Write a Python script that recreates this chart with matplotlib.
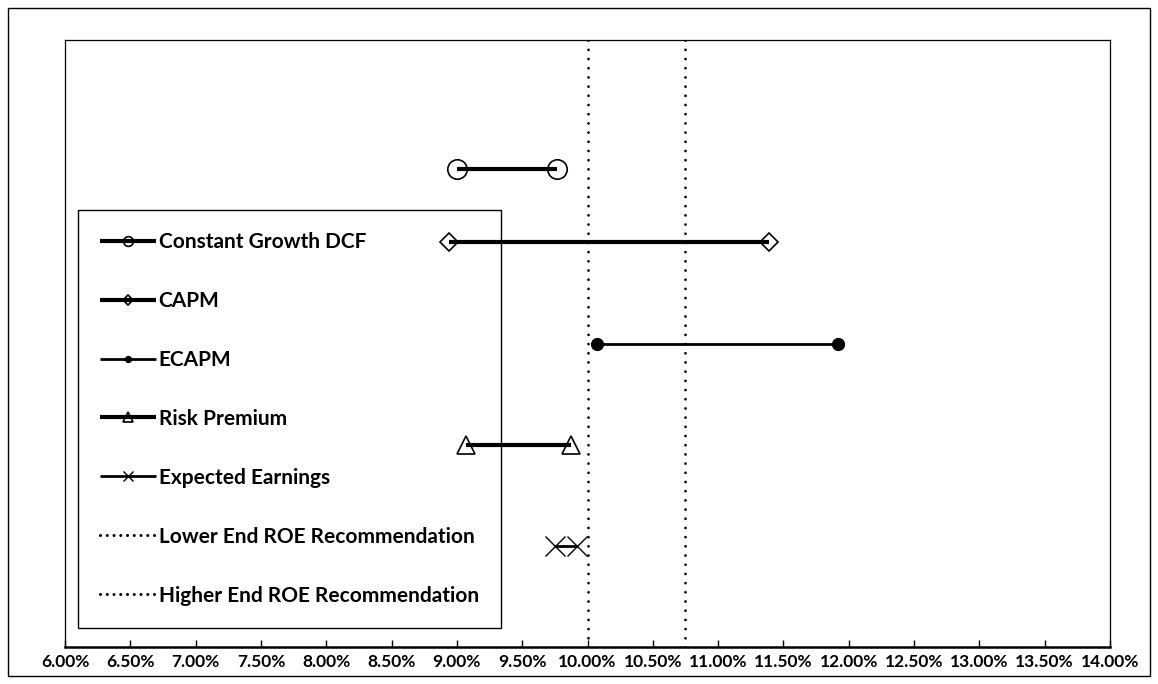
import matplotlib
matplotlib.use("Agg")
import matplotlib.pyplot as plt
from matplotlib.patches import Rectangle
from matplotlib.ticker import FuncFormatter, MultipleLocator

plt.rcParams['font.family'] = ['Lato', 'DejaVu Sans']
plt.rcParams['font.weight'] = 'bold'

# ROE ranges by method (percent)
methods = ["Constant Growth DCF", "CAPM", "ECAPM", "Risk Premium", "Expected Earnings"]
low_vals = [9.00, 8.94, 10.07, 9.07, 9.75]
high_vals = [9.77, 11.39, 11.92, 9.87, 9.92]
row_pos = [4.72, 4.0, 3.0, 2.0, 1.0]

# Recommended ROE band
rec_low = 10.00
rec_high = 10.75
rec_labels = ["Lower End ROE Recommendation", "Higher End ROE Recommendation"]

styles = [
    dict(marker='o', ms=14, mfc='none', mec='black', mew=1.2, lw=3.0),
    dict(marker='D', ms=9.5, mfc='none', mec='black', mew=1.2, lw=3.0),
    dict(marker='o', ms=8.5, mfc='black', mec='black', mew=1.0, lw=2.0),
    dict(marker='^', ms=13, mfc='none', mec='black', mew=1.2, lw=3.0),
    dict(marker='x', ms=14, mfc='black', mec='black', mew=1.0, lw=2.0),
]

W, H = 1158, 684
fig = plt.figure(figsize=(W / 100, H / 100), dpi=100)
ax = fig.add_axes([65 / W, (H - 647) / H, (1110 - 65) / W, (647 - 40) / H])

handles = []
for name, lo, hi, y, st in zip(methods, low_vals, high_vals, row_pos, styles):
    h, = ax.plot([lo, hi], [y, y], color='black', solid_capstyle='butt',
                 label=name, zorder=5, **st)
    handles.append(h)

for xv, lab in zip([rec_low, rec_high], rec_labels):
    h = ax.axvline(xv, color='black', lw=2.0, linestyle=(0, (0.01, 3.3)),
                   dash_capstyle='round', label=lab, zorder=4)
    handles.append(h)

ax.set_xlim(6.0, 14.0)
ax.set_ylim(0, 6)
ax.xaxis.set_major_locator(MultipleLocator(0.5))
ax.xaxis.set_major_formatter(FuncFormatter(lambda v, p: f"{v:.2f}%"))
ax.set_yticks([])
ax.tick_params(axis='x', direction='in', length=5, width=1.0, labelsize=12.5,
               pad=5, colors='black')
for lbl in ax.get_xticklabels():
    lbl.set_fontweight('bold')
for side in ['top', 'right', 'left']:
    ax.spines[side].set_linewidth(0.9)
ax.spines['bottom'].set_linewidth(1.8)

leg = ax.legend(handles=handles, loc='upper left',
                bbox_to_anchor=((78 - 65) / (1110 - 65), (647 - 210) / (647 - 40)),
                frameon=True, fancybox=False, edgecolor='black', framealpha=1,
                prop=dict(family=['Lato', 'DejaVu Sans'], weight='bold', size=15),
                markerscale=0.5, numpoints=1, handlelength=2.7, handletextpad=0.12,
                labelspacing=1.87, borderpad=1.05, borderaxespad=0)
leg.get_frame().set_linewidth(1.0)
leg.set_zorder(2)
for lh in leg.get_lines()[5:]:
    lh.set_linestyle((0, (0.01, 2.2)))
    lh.set_linewidth(2.2)

# outer chart border
fig.patches.append(Rectangle((8 / W, 8 / H), (1150 - 8) / W, (676 - 8) / H,
                             transform=fig.transFigure, fill=False,
                             edgecolor='black', lw=1.0))

fig.savefig("out.png", dpi=100)
